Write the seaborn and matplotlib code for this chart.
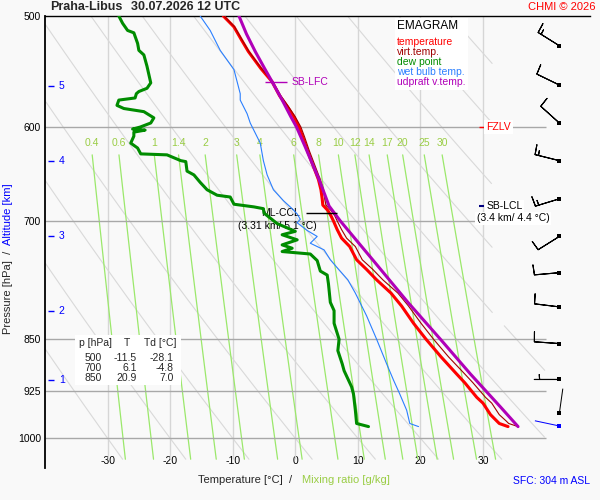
import numpy as np
import pandas as pd
import matplotlib
matplotlib.use("Agg")
import matplotlib.pyplot as plt
from matplotlib.patches import Rectangle
from matplotlib.ticker import NullLocator
import seaborn as sns

# sounding Praha-Libus 30.07.2026 12 UTC
t_p = [500, 509, 520, 530, 545, 557, 570, 580, 590, 600, 610, 623, 640, 654, 665,
       675, 682, 688, 694, 700, 710, 720, 730, 746, 758, 771, 788, 805, 828, 850,
       875, 900, 913, 935, 944, 962, 972, 976, 981]
t_c = [-11.5, -9.8, -8.6, -7.5, -5.5, -3.7, -2.5, -1.3, -0.2, 0.6, 1.2, 1.9, 2.9, 3.7, 4.1,
       4.3, 4.4, 5.2, 5.7, 6.1, 6.7, 7.4, 8.7, 9.8, 11.4, 13.0, 15.3, 17.0, 18.9, 20.9,
       23.3, 25.8, 27.1, 29.0, 30.0, 31.2, 32.2, 32.6, 34.0]
tv_c = [-11.4, -9.7, -8.5, -7.4, -5.4, -3.6, -2.3, -1.1, 0.0, 0.9, 1.5, 2.2, 3.2, 4.0, 4.5,
        4.7, 4.9, 5.7, 6.3, 6.7, 7.4, 8.2, 9.6, 10.7, 12.4, 14.0, 16.4, 18.1, 20.1, 22.1,
        24.5, 27.1, 28.4, 30.4, 31.4, 32.6, 33.7, 34.1, 35.6]

td_p = [500, 506, 512, 514, 523, 529, 533, 543, 558, 563, 566, 568, 572, 574, 579,
        582, 585, 588, 591, 596, 600, 602, 603, 605, 609, 616, 621, 627, 628, 634,
        635, 645, 649, 657, 665, 671, 673, 681, 684, 686, 691, 703, 712, 716, 722,
        728, 732, 736, 739, 747, 760, 765, 776, 800, 811, 828, 850, 866, 885, 895,
        919, 930, 955, 976, 981]
td_c = [-28.2, -27.6, -26.8, -25.8, -25.2, -25.0, -24.2, -23.7, -23.1, -23.7, -25.0, -25.4, -25.6, -28.2, -28.5,
        -27.4, -24.2, -23.4, -22.6, -23.1, -24.8, -26.0, -24.0, -25.8, -25.8, -26.3, -25.2, -24.7, -20.5, -18.3,
        -17.5, -17.3, -16.2, -15.2, -14.1, -12.5, -10.4, -9.8, -6.6, -5.1, -5.0, -2.9, 0.0, -2.1, 0.3,
        -2.1, -0.5, -2.1, 2.4, 3.5, 4.0, 5.1, 5.3, 5.6, 6.2, 6.2, 7.0, 6.8, 7.5, 7.8,
        9.0, 9.3, 9.6, 9.8, 11.7]

tw_p = [500, 512, 529, 546, 568, 574, 587, 596, 616, 634, 649, 665, 677, 686, 692,
        698, 702, 711, 718, 726, 734, 746, 755, 771, 788, 818, 850, 885, 909, 930,
        955, 976, 981]
tw_c = [-15.2, -13.6, -12.0, -9.8, -8.8, -8.8, -7.7, -7.2, -5.6, -5.1, -4.5, -3.5, -1.9, -0.5, 0.3,
        0.8, 0.3, 1.9, 3.5, 2.4, 4.6, 5.6, 6.6, 8.4, 9.6, 11.4, 13.0, 14.6, 15.7, 16.7,
        17.8, 18.3, 19.7]

par_p = [500, 515, 530, 545, 557, 575, 590, 600, 620, 640, 654, 670, 683, 700, 750,
         800, 850, 900, 950, 981]
par_c = [-9.0, -7.8, -6.4, -4.9, -3.7, -2.0, -0.7, 0.2, 1.6, 2.9, 3.8, 4.7, 5.4, 7.2, 12.8,
         18.0, 23.2, 28.0, 32.8, 35.6]

std_levels = [500, 600, 700, 850, 925, 1000]
isotherms = [-30, -20, -10, 0, 10, 20, 30]
mix_ratios = [0.4, 0.6, 1, 1.4, 2, 3, 4, 6, 8, 10, 12, 14, 17, 20, 25, 30]
theta_c = list(range(-30, 101, 10))
alt_km = [1, 2, 3, 4, 5]
alt_p = [909, 811, 718, 634, 561]

wind_p = [525, 560, 596, 634, 675, 718, 762, 806, 856, 908, 960]
wind_dir = [302, 296, 312, 284, 253, 238, 265, 277, 274, 270, 8]
wind_kt = [15, 10, 10, 15, 15, 10, 10, 10, 10, 5, 2]
sfc_p, sfc_dir, sfc_kt = 980, 282, 2

tab_p = [500, 700, 850]
tab_t = [-11.5, 6.1, 20.9]
tab_td = [-28.1, -4.8, 7.0]

BG = "#f9f9f9"
RED = "#ff0000"
DRED = "#a00000"
GREEN = "#008c00"
BLUE = "#2a7fff"
PURPLE = "#b000b8"
MIXC = "#9be86b"
MIXT = "#9acd45"

sns.set_theme(style="white")
plt.rcParams["font.family"] = ["Liberation Sans", "DejaVu Sans"]


def fx(px):
    return px / 600


def fy(py):
    return 1 - py / 500


fig = plt.figure(figsize=(6, 5), dpi=100, facecolor=BG)
ax = fig.add_axes([fx(45), fy(468), 545 / 600, 452 / 500])
ax.set_facecolor(BG)
ax.set_yscale("log")
ax.set_xlim(-40, 47.1)
ax.set_ylim(1050, 500)

# background: isotherms, isobars, dry adiabats, mixing ratio lines
ax.vlines(isotherms, 500, 1035, color="#d6d6d6", lw=1, zorder=1)
ax.hlines(std_levels[1:], -40, 40, color="#a8a8a8", lw=1, zorder=1.5)

pp = np.geomspace(500, 1035, 300)
for th in theta_c:
    tt = (th + 273.15) * (pp / 1000) ** 0.2857 - 273.15
    tt = np.where(((pp < 830) & (tt > 31.5)) | (tt > 40) | (tt < -40), np.nan, tt)
    ax.plot(tt, pp, color="#d9d9d9", lw=0.8, zorder=1)

pm = np.geomspace(628, 1035, 100)
for w in mix_ratios:
    e = w * pm / (622 + w)
    le = np.log(e / 6.112)
    tm = 243.5 * le / (17.67 - le)
    ax.plot(tm, pm, color=MIXC, lw=0.9, zorder=1.2)
    ax.text(tm[0], 616, f"{w:g}", color=MIXT, fontsize=7.5, ha="center", va="center")

# profiles
curves = [
    (td_c, td_p, GREEN, 2.2),
    (tw_c, tw_p, BLUE, 0.8),
    (t_c, t_p, RED, 2.2),
    (tv_c, t_p, DRED, 0.8),
    (par_c, par_p, PURPLE, 2.2),
]
for xs, ys, col, lw in curves:
    sns.lineplot(data=pd.DataFrame({"T": xs, "p": ys}), x="T", y="p", sort=False,
                 estimator=None, color=col, lw=lw, ax=ax, zorder=4)

ax.set_xlabel("")
ax.set_ylabel("")
ax.set_yticks(std_levels)
ax.set_yticklabels([str(v) for v in std_levels])
ax.yaxis.set_minor_locator(NullLocator())
ax.set_xticks(isotherms)
ax.set_xticklabels([str(v) for v in isotherms])
ax.tick_params(axis="y", length=0, pad=3, labelsize=7.5, colors="black")
ax.tick_params(axis="x", length=0, pad=-9, labelsize=7.5, colors="black")
ax.grid(False)
for side in ["right", "bottom"]:
    ax.spines[side].set_visible(False)
ax.spines["left"].set_color("black")
ax.spines["left"].set_linewidth(1.3)
ax.spines["top"].set_color("black")
ax.spines["top"].set_linewidth(1.0)

# altitude scale
ax.hlines(alt_p, -39.5, -38.6, color="#0000ff", lw=1, zorder=3)
for km, p in zip(alt_km, alt_p):
    ax.text(-37.8, p, str(km), color="#0000ff", fontsize=7.5, va="center", ha="left")

# level marks
ax.hlines(557, -4.8, -1.4, color=PURPLE, lw=1, zorder=5)
ax.text(-0.6, 557, "SB-LFC", color=PURPLE, fontsize=7.5, va="center", zorder=5)
ax.hlines(600, 29.3, 30.1, color=RED, lw=1, zorder=5)
ax.text(30.5, 600, "FZLV", color=RED, fontsize=7.5, va="center", zorder=5,
        bbox=dict(facecolor="white", edgecolor="none", pad=1.5))
ax.hlines(683, 29.3, 30.2, color="#000080", lw=1.5, zorder=5)
ax.text(30.5, 683, "SB-LCL", color="black", fontsize=7.5, va="center", zorder=5,
        bbox=dict(facecolor="white", edgecolor="none", pad=1))
ax.text(29.0, 697, "(3.4 km/ 4.4 °C)", color="black", fontsize=7.5, va="center", zorder=5,
        bbox=dict(facecolor="white", edgecolor="none", pad=1))
ax.hlines(691, 1.7, 6.7, color="black", lw=1, zorder=5)
ax.text(-2.4, 691, "ML-CCL", color="black", fontsize=7.5, ha="center", va="center", zorder=3)
ax.text(-2.9, 706, "(3.31 km/ 5.1 °C)", color="black", fontsize=7.5, ha="center", va="center", zorder=3)

# winds
xb = 42.2
d = np.deg2rad(wind_dir)
spd = np.array(wind_kt, dtype=float)
u = -spd * np.sin(d)
v = -spd * np.cos(d)
strong = spd >= 5
ax.barbs(np.full(strong.sum(), xb), np.array(wind_p)[strong], u[strong], v[strong],
         length=6, lw=0.8, color="black", zorder=6, clip_on=False,
         sizes=dict(width=0.05, spacing=0.14, height=0.4))
calm_p = list(np.array(wind_p)[~strong]) + [sfc_p]
calm_d = np.deg2rad(list(np.array(wind_dir)[~strong]) + [sfc_dir])
ax.quiver(np.full(len(calm_p), xb), calm_p, np.sin(calm_d), np.cos(calm_d),
          color=["black"] * (len(calm_p) - 1) + ["#0000ff"], angles="uv",
          scale_units="dots", scale=1 / 25, units="dots", width=1,
          headwidth=0, headlength=0, headaxislength=0, pivot="tail", zorder=6)
ax.scatter([xb] * len(wind_p), wind_p, marker="s", s=6, color="black", zorder=7, linewidths=0)
ax.scatter([xb], [sfc_p], marker="s", s=6, color="#0000ff", zorder=7, linewidths=0)

# legend box
fig.add_artist(Rectangle((fx(395), fy(90)), 73 / 600, 72 / 500, facecolor="white",
                         edgecolor="none", transform=fig.transFigure, zorder=8))
leg = [("EMAGRAM", "black", 26), ("temperature", RED, 42), ("virt.temp.", DRED, 52),
       ("dew point", GREEN, 62), ("wet bulb temp.", BLUE, 72), ("udpraft v.temp.", PURPLE, 82)]
for txt, col, yy in leg:
    fig.text(fx(397), fy(yy), txt, color=col, fontsize=8.5 if txt == "EMAGRAM" else 7.5,
             va="center", ha="left", zorder=9)

# value table
fig.add_artist(Rectangle((fx(75), fy(385)), 106 / 600, 50 / 500, facecolor="white",
                         edgecolor="none", transform=fig.transFigure, zorder=8))
fig.text(fx(79), fy(343), "p [hPa]", fontsize=7.5, va="center", zorder=9)
fig.text(fx(127), fy(343), "T", fontsize=7.5, va="center", ha="center", zorder=9)
fig.text(fx(144), fy(343), "Td [°C]", fontsize=7.5, va="center", zorder=9)
for i, (p, t, td) in enumerate(zip(tab_p, tab_t, tab_td)):
    yy = 358 + 10 * i
    fig.text(fx(102), fy(yy), f"{p}", fontsize=7.5, va="center", ha="right", zorder=9)
    fig.text(fx(137), fy(yy), f"{t:.1f}", fontsize=7.5, va="center", ha="right", zorder=9)
    fig.text(fx(174), fy(yy), f"{td:.1f}", fontsize=7.5, va="center", ha="right", zorder=9)

# titles and axis labels
fig.text(fx(50), fy(7), "Praha-Libus", fontsize=9, fontweight="bold", va="center")
fig.text(fx(131), fy(7), "30.07.2026 12 UTC", fontsize=9, fontweight="bold", va="center")
fig.text(fx(596), fy(7), "CHMI © 2026", color=RED, fontsize=8, va="center", ha="right")
fig.text(fx(8), fy(334), "Pressure [hPa]  /", rotation=90, fontsize=8, ha="center", va="bottom")
fig.text(fx(8), fy(183), "Altitude [km]", rotation=90, fontsize=8, color="#0000ff",
         ha="center", va="top")
fig.text(fx(198), fy(480), "Temperature [°C]  /", fontsize=8, va="center")
fig.text(fx(302), fy(480), "Mixing ratio [g/kg]", fontsize=8, color=MIXT, va="center")
fig.text(fx(590), fy(481), "SFC: 304 m ASL", fontsize=7.5, color="#0000ff", va="center", ha="right")

fig.savefig("out.png", dpi=100, facecolor=BG)
